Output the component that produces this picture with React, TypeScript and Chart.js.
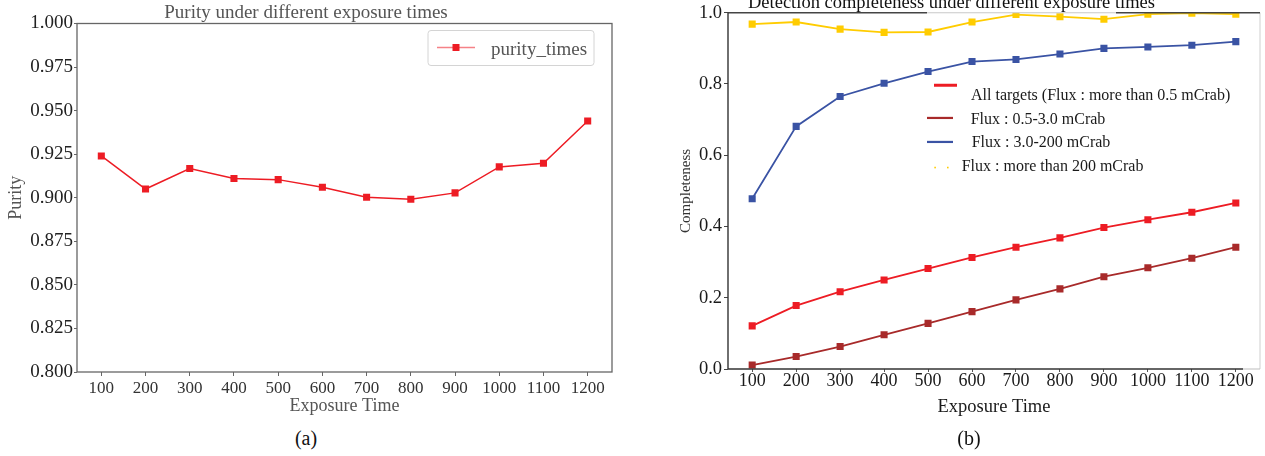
import React, { useEffect, useRef } from "react";
import { Chart, registerables } from "chart.js";

Chart.register(...registerables);

// ---------------- data ----------------
const EXPOSURE = [100, 200, 300, 400, 500, 600, 700, 800, 900, 1000, 1100, 1200];
const X_TICKS = [100, 200, 300, 400, 500, 600, 700, 800, 900, 1000, 1100, 1200];

const PURITY = [0.924, 0.905, 0.9168, 0.911, 0.9104, 0.906, 0.9003, 0.8991, 0.9028, 0.9177, 0.9198, 0.944];
const PURITY_TICKS = [0.8, 0.825, 0.85, 0.875, 0.9, 0.925, 0.95, 0.975, 1.0];

const ALL_TARGETS = [0.121, 0.178, 0.217, 0.25, 0.282, 0.313, 0.342, 0.368, 0.397, 0.419, 0.44, 0.466];
const FLUX_LOW = [0.011, 0.035, 0.063, 0.096, 0.128, 0.161, 0.194, 0.225, 0.259, 0.284, 0.311, 0.342];
const FLUX_MID = [0.478, 0.681, 0.765, 0.802, 0.835, 0.863, 0.869, 0.884, 0.9, 0.904, 0.909, 0.919];
const FLUX_HIGH = [0.968, 0.974, 0.954, 0.945, 0.946, 0.974, 0.995, 0.989, 0.982, 0.996, 0.999, 0.996];
const COMPLETENESS_TICKS = [0, 0.2, 0.4, 0.6, 0.8, 1.0];

const SERIES_LABELS = [
  "All targets (Flux : more than 0.5 mCrab)",
  "Flux : 0.5-3.0 mCrab",
  "Flux : 3.0-200 mCrab",
  "Flux : more than 200 mCrab",
];
const SERIES_COLORS = ["#ED1C24", "#A82A2A", "#3A53A4", "#FFCC00"];

const SERIF = "'Liberation Serif', 'Times New Roman', serif";

const toPoints = (ys: number[]) => EXPOSURE.map((x, i) => ({ x, y: ys[i] }));

// ---------------- plugins ----------------
const leftFrame = {
  id: "leftFrame",
  afterDraw(chart: any) {
    const { ctx, chartArea: a } = chart;
    ctx.save();
    ctx.strokeStyle = "#666";
    ctx.lineWidth = 1.3;
    ctx.strokeRect(a.left, a.top, a.right - a.left, a.bottom - a.top);
    ctx.restore();
  },
};

const leftLegend = {
  id: "leftLegend",
  afterDraw(chart: any) {
    const { ctx, chartArea: a } = chart;
    const ds = chart.data.datasets[0];
    const w = 166;
    const h = 35;
    const x0 = a.right - 18 - w;
    const y0 = a.top + 7;
    const r = 3;
    ctx.save();
    ctx.beginPath();
    ctx.moveTo(x0 + r, y0);
    ctx.lineTo(x0 + w - r, y0);
    ctx.quadraticCurveTo(x0 + w, y0, x0 + w, y0 + r);
    ctx.lineTo(x0 + w, y0 + h - r);
    ctx.quadraticCurveTo(x0 + w, y0 + h, x0 + w - r, y0 + h);
    ctx.lineTo(x0 + r, y0 + h);
    ctx.quadraticCurveTo(x0, y0 + h, x0, y0 + h - r);
    ctx.lineTo(x0, y0 + r);
    ctx.quadraticCurveTo(x0, y0, x0 + r, y0);
    ctx.closePath();
    ctx.fillStyle = "rgba(255,255,255,0.9)";
    ctx.fill();
    ctx.strokeStyle = "#d4d4d4";
    ctx.lineWidth = 1;
    ctx.stroke();

    const ly = y0 + 17;
    ctx.strokeStyle = "rgba(237,28,36,0.55)";
    ctx.lineWidth = 1.5;
    ctx.beginPath();
    ctx.moveTo(x0 + 9, ly);
    ctx.lineTo(x0 + 47, ly);
    ctx.stroke();
    ctx.fillStyle = ds.borderColor;
    ctx.fillRect(x0 + 28 - 3.5, ly - 3.5, 7, 7);

    ctx.fillStyle = "#555";
    ctx.font = `19px ${SERIF}`;
    ctx.textBaseline = "alphabetic";
    ctx.textAlign = "left";
    ctx.fillText(ds.label, x0 + 63, y0 + 24);
    ctx.restore();
  },
};

const rightFrame = {
  id: "rightFrame",
  afterDraw(chart: any) {
    const { ctx, chartArea: a } = chart;
    const seg = (x1: number, y1: number, x2: number, y2: number, c: string, lw: number) => {
      ctx.strokeStyle = c;
      ctx.lineWidth = lw;
      ctx.beginPath();
      ctx.moveTo(x1, y1);
      ctx.lineTo(x2, y2);
      ctx.stroke();
    };
    ctx.save();
    seg(a.right, a.top, a.right, a.bottom, "#cfcfcf", 1);
    seg(a.left, a.top, a.left + 199, a.top, "#444", 1.3);
    seg(a.left + 199, a.top, a.left + 388, a.top, "#c8c8c8", 1);
    seg(a.left + 388, a.top, a.right, a.top, "#444", 1.3);
    seg(a.left, a.bottom, a.left + 515, a.bottom, "#333", 1.4);
    seg(a.left + 515, a.bottom, a.right, a.bottom, "#bdbdbd", 1);
    seg(a.left, a.top, a.left, a.bottom, "#333", 1.4);
    ctx.restore();
  },
};

const rightLegend = {
  id: "rightLegend",
  afterDraw(chart: any) {
    const { ctx, chartArea: a } = chart;
    const ds = chart.data.datasets;
    const L = a.left;
    const T = a.top;
    ctx.save();
    ctx.lineCap = "butt";
    ctx.strokeStyle = ds[0].borderColor;
    ctx.lineWidth = 3;
    ctx.beginPath();
    ctx.moveTo(L + 206, T + 72.5);
    ctx.lineTo(L + 229, T + 72.5);
    ctx.stroke();
    ctx.strokeStyle = ds[1].borderColor;
    ctx.lineWidth = 2.2;
    ctx.beginPath();
    ctx.moveTo(L + 199, T + 105.2);
    ctx.lineTo(L + 225, T + 105.2);
    ctx.stroke();
    ctx.strokeStyle = ds[2].borderColor;
    ctx.beginPath();
    ctx.moveTo(L + 199, T + 129.2);
    ctx.lineTo(L + 225, T + 129.2);
    ctx.stroke();
    ctx.fillStyle = ds[3].borderColor;
    ctx.fillRect(L + 206.3, T + 154, 1.6, 1.6);
    ctx.fillRect(L + 219, T + 154, 1.6, 1.6);

    ctx.fillStyle = "#1a1a1a";
    ctx.font = `16px ${SERIF}`;
    ctx.textAlign = "left";
    ctx.textBaseline = "alphabetic";
    ctx.fillText(ds[0].label, L + 243, T + 86.8);
    ctx.fillText(ds[1].label, L + 242.7, T + 110.8);
    ctx.fillText(ds[2].label, L + 243.7, T + 134.2);
    ctx.fillText(ds[3].label, L + 233.7, T + 158.5);
    ctx.restore();
  },
};

// ---------------- component ----------------
export default function App() {
  const leftRef = useRef<HTMLCanvasElement>(null);
  const rightRef = useRef<HTMLCanvasElement>(null);

  useEffect(() => {
    const left = new Chart(leftRef.current as HTMLCanvasElement, {
      type: "line",
      data: {
        datasets: [
          {
            label: "purity_times",
            data: toPoints(PURITY),
            borderColor: "#ED1C24",
            backgroundColor: "#ED1C24",
            borderWidth: 1.5,
            pointStyle: "rect",
            pointRadius: 5,
            pointBorderWidth: 0,
            tension: 0,
          },
        ],
      },
      options: {
        animation: false,
        responsive: false,
        events: [],
        layout: { padding: { left: 0, top: 3, right: 28, bottom: 0 } },
        plugins: {
          legend: { display: false },
          tooltip: { enabled: false },
          title: {
            display: true,
            text: "Purity under different exposure times",
            color: "#555",
            font: { family: SERIF, size: 19, lineHeight: 1, weight: "normal" },
            padding: { top: 0.5, bottom: 1 },
          },
        },
        scales: {
          x: {
            type: "linear",
            min: 45,
            max: 1255,
            afterBuildTicks: (s: any) => {
              s.ticks = X_TICKS.map((v) => ({ value: v }));
            },
            afterFit: (s: any) => {
              s.height = 48;
            },
            grid: { drawOnChartArea: false, drawTicks: true, tickLength: 4, color: "#666", lineWidth: 1 },
            border: { display: false },
            ticks: {
              color: "#333",
              font: { family: SERIF, size: 17, lineHeight: 1 },
              padding: 4.5,
              autoSkip: false,
              maxRotation: 0,
              callback: (v: any) => String(v),
            },
            title: {
              display: true,
              text: "Exposure Time",
              color: "#555",
              font: { family: SERIF, size: 18, lineHeight: 1 },
              padding: { top: 0, bottom: 5 },
            },
          },
          y: {
            type: "linear",
            min: 0.8,
            max: 1.0,
            afterBuildTicks: (s: any) => {
              s.ticks = PURITY_TICKS.map((v) => ({ value: v }));
            },
            afterFit: (s: any) => {
              s.width = 77;
            },
            grid: { drawOnChartArea: false, drawTicks: true, tickLength: 3, color: "#666", lineWidth: 1 },
            border: { display: false },
            ticks: {
              color: "#222",
              font: { family: SERIF, size: 19, lineHeight: 1 },
              padding: 1,
              callback: (v: any) => Number(v).toFixed(3),
            },
            title: {
              display: true,
              text: "Purity",
              color: "#555",
              font: { family: SERIF, size: 18, lineHeight: 1 },
              padding: { top: 7, bottom: 0 },
            },
          },
        },
      } as any,
      plugins: [leftFrame, leftLegend],
    });

    const right = new Chart(rightRef.current as HTMLCanvasElement, {
      type: "line",
      data: {
        datasets: [ALL_TARGETS, FLUX_LOW, FLUX_MID, FLUX_HIGH].map((ys, i) => ({
          label: SERIES_LABELS[i],
          data: toPoints(ys),
          borderColor: SERIES_COLORS[i],
          backgroundColor: SERIES_COLORS[i],
          borderWidth: 1.8,
          pointStyle: "rect",
          pointRadius: 5,
          pointBorderWidth: 0,
          tension: 0,
        })),
      },
      options: {
        animation: false,
        responsive: false,
        events: [],
        layout: { padding: { left: 0, top: 4, right: 2, bottom: 0 } },
        plugins: {
          legend: { display: false },
          tooltip: { enabled: false },
          title: {
            display: true,
            text: "Detection completeness under different exposure times",
            color: "#111",
            font: { family: SERIF, size: 18.5, lineHeight: 1, weight: "normal" },
            padding: { top: 0, bottom: 0.25 },
          },
        },
        scales: {
          x: {
            type: "linear",
            min: 45,
            max: 1255,
            afterBuildTicks: (s: any) => {
              s.ticks = X_TICKS.map((v) => ({ value: v }));
            },
            afterFit: (s: any) => {
              s.height = 71;
            },
            grid: { drawOnChartArea: false, drawTicks: true, tickLength: 3, color: "#555", lineWidth: 1 },
            border: { display: false },
            ticks: {
              color: "#1a1a1a",
              font: { family: SERIF, size: 18, lineHeight: 1 },
              padding: 0,
              autoSkip: false,
              maxRotation: 0,
              callback: (v: any) => String(v),
            },
            title: {
              display: true,
              text: "Exposure Time",
              color: "#1a1a1a",
              font: { family: SERIF, size: 18.5, lineHeight: 1 },
              padding: { top: 0, bottom: 23.5 },
            },
          },
          y: {
            type: "linear",
            min: 0,
            max: 1.0,
            afterBuildTicks: (s: any) => {
              s.ticks = COMPLETENESS_TICKS.map((v) => ({ value: v }));
            },
            afterFit: (s: any) => {
              s.width = 88;
            },
            grid: { drawOnChartArea: false, drawTicks: true, tickLength: 4, color: "#444", lineWidth: 1 },
            border: { display: false },
            ticks: {
              color: "#1a1a1a",
              font: { family: SERIF, size: 18.5, lineHeight: 1 },
              padding: 2,
              callback: (v: any) => Number(v).toFixed(1),
            },
            title: {
              display: true,
              text: "Completeness",
              color: "#333",
              font: { family: SERIF, size: 15, lineHeight: 1 },
              padding: { top: 39, bottom: 0 },
            },
          },
        },
      } as any,
      plugins: [rightFrame, rightLegend],
    });

    return () => {
      left.destroy();
      right.destroy();
    };
  }, []);

  const caption: React.CSSProperties = {
    position: "absolute",
    width: 100,
    textAlign: "center",
    fontFamily: SERIF,
    fontSize: 20,
    lineHeight: "20px",
    color: "#111",
    top: 428,
  };

  return (
    <div
      style={{
        position: "absolute",
        left: 0,
        top: 0,
        width: 1265,
        height: 456,
        overflow: "hidden",
        background: "#fff",
      }}
    >
      <canvas
        ref={leftRef}
        width={640}
        height={420}
        style={{ position: "absolute", left: 0, top: 0, width: 640, height: 420 }}
      />
      <canvas
        ref={rightRef}
        width={625}
        height={450}
        style={{ position: "absolute", left: 640, top: -10, width: 625, height: 450 }}
      />
      <div style={{ ...caption, left: 256 }}>(a)</div>
      <div style={{ ...caption, left: 919 }}>(b)</div>
    </div>
  );
}
